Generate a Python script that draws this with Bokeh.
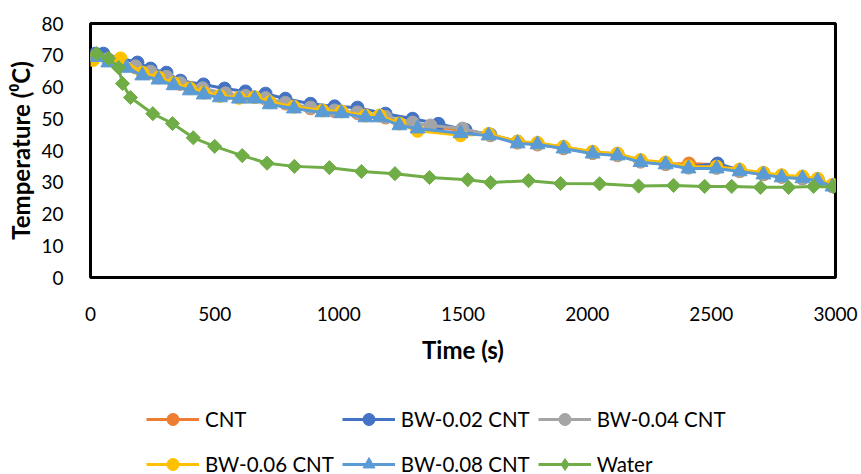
from bokeh.plotting import figure
from bokeh.models import Range1d, Legend, LegendItem, FixedTicker
from bokeh.layouts import column
from bokeh.embed import file_html
from bokeh.resources import INLINE
import math

# ---------------- data ----------------
x_ticks = [0, 500, 1000, 1500, 2000, 2500, 3000]
y_ticks = [0, 10, 20, 30, 40, 50, 60, 70, 80]

t_cnt = [20, 70, 181, 242, 306, 362, 451, 544, 624, 705, 785, 886, 983, 1075, 1188, 1297, 1401, 1498,
         1610, 1720, 1800, 1905, 2022, 2122, 2215, 2316, 2410, 2521, 2614, 2710, 2783, 2867, 2928, 2988]
T_cnt = [69.6, 68.6, 66.2, 64.6, 63.0, 61.0, 59.4, 57.8, 57.0, 56.3, 54.8, 53.3, 52.4, 51.8, 50.4, 48.6, 47.4, 46.2,
         44.8, 42.5, 41.9, 40.7, 39.2, 38.5, 36.5, 35.7, 35.9, 35.5, 33.5, 32.5, 31.7, 31.2, 30.6, 28.7]

t_02 = [20, 52, 189, 242, 306, 362, 455, 540, 624, 705, 785, 886, 983, 1075, 1188, 1297, 1401, 1510,
        1610, 1720, 1800, 1905, 2022, 2122, 2215, 2316, 2408, 2525, 2614, 2710, 2783, 2867, 2928, 2988]
T_02 = [70.5, 70.5, 67.7, 65.8, 64.5, 62.0, 60.8, 59.5, 58.6, 57.9, 56.3, 54.7, 53.9, 53.5, 51.6, 50.0, 48.4, 46.5,
        45.0, 42.8, 42.2, 41.0, 39.5, 38.9, 36.8, 36.0, 34.8, 35.9, 33.8, 32.8, 32.0, 31.5, 30.9, 29.0]

t_04 = [20, 70, 181, 242, 306, 362, 451, 544, 624, 705, 785, 886, 983, 1075, 1188, 1297, 1369, 1498,
        1610, 1720, 1800, 1905, 2022, 2122, 2215, 2316, 2408, 2521, 2614, 2710, 2783, 2867, 2928, 2988]
T_04 = [69.8, 68.8, 66.5, 64.8, 63.2, 61.2, 59.6, 58.0, 57.2, 56.5, 55.0, 53.5, 52.6, 52.0, 50.6, 48.8, 47.9, 46.9,
        44.9, 42.6, 42.0, 40.8, 39.3, 38.6, 36.6, 35.8, 34.6, 34.5, 33.6, 32.6, 31.8, 31.3, 30.7, 28.8]

t_06 = [10, 121, 209, 274, 335, 400, 456, 521, 598, 661, 722, 819, 934, 1011, 1107, 1164, 1244, 1317,
        1490, 1603, 1720, 1800, 1905, 2022, 2122, 2215, 2316, 2408, 2521, 2614, 2710, 2783, 2867, 2928, 2988]
T_06 = [68.5, 69.0, 64.5, 63.0, 61.2, 59.6, 58.2, 57.2, 56.6, 56.8, 55.2, 53.8, 52.6, 52.3, 51.0, 51.0, 48.5, 46.2,
        44.8, 45.2, 42.8, 42.4, 41.2, 39.6, 39.0, 37.0, 36.2, 35.0, 34.9, 34.0, 33.0, 32.2, 31.8, 31.1, 29.2]

t_08 = [20, 72, 145, 209, 274, 335, 400, 456, 521, 598, 661, 722, 819, 934, 1011, 1107, 1164, 1244, 1317,
        1490, 1603, 1720, 1800, 1905, 2022, 2122, 2215, 2316, 2408, 2521, 2614, 2710, 2783, 2867, 2928, 2988]
T_08 = [69.4, 67.7, 66.0, 63.6, 62.3, 60.5, 58.9, 57.6, 56.7, 56.3, 56.3, 54.5, 53.2, 52.0, 51.7, 50.4, 50.4, 47.9, 46.9,
        45.4, 44.7, 42.2, 41.9, 40.6, 39.0, 38.4, 36.3, 35.6, 34.3, 34.3, 33.4, 32.4, 31.5, 31.2, 30.5, 28.6]

t_water = [24, 73, 113, 129, 161, 251, 330, 414, 500, 611, 711, 821, 962, 1091, 1226, 1365, 1519, 1611,
           1764, 1893, 2050, 2207, 2348, 2473, 2582, 2698, 2811, 2912, 2992]
T_water = [70.5, 69.0, 66.1, 61.1, 56.7, 51.6, 48.5, 44.0, 41.3, 38.4, 36.0, 35.0, 34.6, 33.4, 32.7, 31.5, 30.8, 29.9,
           30.5, 29.6, 29.5, 28.8, 29.0, 28.7, 28.7, 28.4, 28.4, 28.7, 28.6]

FONT = "Lato"
W = 861

# ---------------- main chart ----------------
p = figure(width=W, height=380, output_backend="svg", toolbar_location=None,
           x_range=Range1d(0, 3000), y_range=Range1d(0, 80),
           min_border_left=90, min_border_right=26, min_border_top=23, min_border_bottom=103)

p.xgrid.visible = False
p.ygrid.visible = False
p.outline_line_color = "black"
p.outline_line_width = 3
p.outline_line_alpha = 1.0
p.background_fill_color = "white"
p.border_fill_color = "white"

p.xaxis.ticker = FixedTicker(ticks=x_ticks)
p.yaxis.ticker = FixedTicker(ticks=y_ticks)
for ax in (p.xaxis[0], p.yaxis[0]):
    ax.axis_line_color = None
    ax.major_tick_line_color = None
    ax.minor_tick_line_color = None
    ax.major_label_text_font = FONT
    ax.major_label_text_font_size = "19px"
    ax.major_label_text_color = "black"
    ax.axis_label_text_font = FONT
    ax.axis_label_text_font_size = "24px"
    ax.axis_label_text_font_style = "bold"
    ax.axis_label_text_color = "black"
p.xaxis.major_label_standoff = 23
p.yaxis.major_label_standoff = 21
p.xaxis.axis_label = "Time (s)"
p.yaxis.axis_label = "Temperature (⁰C)"
p.xaxis.axis_label_standoff = 11
p.yaxis.axis_label_standoff = 3

series = [
    ("CNT", t_cnt, T_cnt, "#ED7D31", "circle", 13, 0.0),
    ("BW-0.02 CNT", t_02, T_02, "#4472C4", "circle", 13, 0.0),
    ("BW-0.04 CNT", t_04, T_04, "#A5A5A5", "circle", 13, 0.0),
    ("BW-0.06 CNT", t_06, T_06, "#FFC000", "circle", 13, 0.0),
    ("BW-0.08 CNT", t_08, T_08, "#5B9BD5", "triangle", 15, 0.0),
    ("Water", t_water, T_water, "#70AD47", "square", 10, math.pi / 4),
]

for name, xs, ys, col, mk, sz, ang in series:
    p.line(xs, ys, line_color=col, line_width=3)
    p.scatter(xs, ys, marker=mk, size=sz, angle=ang, fill_color=col, line_color=col, line_width=1)

# ---------------- legend strip (same series, view range kept off the data) ----------------
q = figure(width=W, height=94, output_backend="svg", toolbar_location=None,
           x_range=Range1d(-20, -10), y_range=Range1d(-20, -10),
           x_axis_location=None, y_axis_location=None,
           min_border_left=0, min_border_right=0, min_border_top=0, min_border_bottom=0)
q.xgrid.visible = False
q.ygrid.visible = False
q.outline_line_color = None

items = []
for name, xs, ys, col, mk, sz, ang in series:
    leg_marker = "diamond" if mk == "square" else mk
    leg_size = 15 if mk == "square" else sz
    lr = q.line(xs, ys, line_color=col, line_width=3)
    sr = q.scatter(xs, ys, marker=leg_marker, size=leg_size, fill_color=col, line_color=col, line_width=1)
    items.append(LegendItem(label=name, renderers=[lr, sr]))

legend = Legend(items=items, location=(56, -8), orientation="horizontal", ncols=3,
                label_text_font=FONT, label_text_font_size="20.5px", label_text_color="black",
                label_standoff=6, glyph_width=53, glyph_height=30, label_height=37,
                spacing=8, padding=0, margin=0, border_line_color=None,
                background_fill_alpha=0.0)
q.add_layout(legend, "center")

layout = column(p, q, spacing=0)
open("out.html", "w").write(file_html(layout, INLINE))
